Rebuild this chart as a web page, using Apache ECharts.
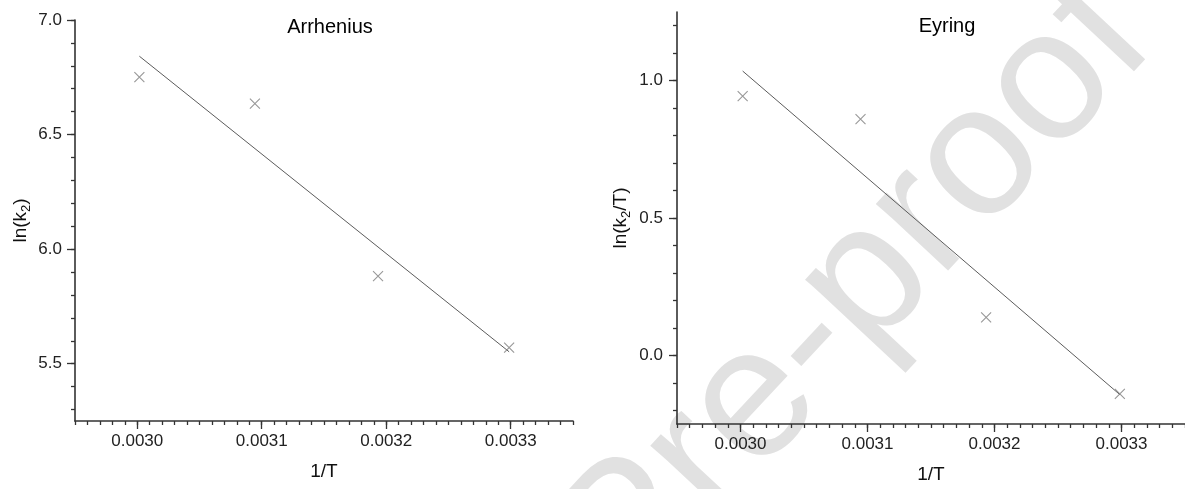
<!DOCTYPE html>
<html>
<head>
<meta charset="utf-8">
<script src="https://cdn.jsdelivr.net/npm/echarts@6/dist/echarts.min.js"></script>
<style>
  html, body { margin: 0; padding: 0; background: #fff; }
  #chart { width: 1185px; height: 489px; }
</style>
</head>
<body>
<div id="chart"></div>
<script>
// Reciprocal temperature (1/K) for the four measurements
const invT = [0.0030017, 0.0030945, 0.0031934, 0.0032987];
// Arrhenius plot: ln(k2)
const lnK = [6.751, 6.635, 5.882, 5.570];
// Eyring plot: ln(k2/T)
const lnKT = [0.944, 0.860, 0.138, -0.140];
// Linear fit endpoints
const fitX = [0.0030017, 0.0032987];
const lnKFit = [6.842, 5.552];
const lnKTFit = [1.035, -0.143];

// Axis ticks
const xMajor = [0.0030, 0.0031, 0.0032, 0.0033];
const yMajorLeft = [5.5, 6.0, 6.5, 7.0];
const yMajorRight = [0.0, 0.5, 1.0];

function steps(from, to, step, digits) {
  const out = [];
  const n = Math.round((to - from) / step);
  for (let i = 0; i <= n; i++) out.push(+(from + i * step).toFixed(digits));
  return out;
}
const xMinor = steps(0.00295, 0.00335, 0.00001, 6);
const yMinorLeft = steps(5.3, 7.0, 0.1, 2);
const yMinorRight = steps(-0.2, 1.2, 0.1, 2);

const FONT = '"Liberation Sans", Arial, sans-serif';
const AXIS_COLOR = '#333';
const MARK_COLOR = '#7e7e7e';
const LINE_COLOR = '#5c5c5c';

const cross = 'path://M0,0L10,10M10,0L0,10';

function pairs(xs, ys) { return xs.map((x, i) => [x, ys[i]]); }

function xAxes(gridIndex) {
  const base = {
    type: 'value', gridIndex, min: 0.00295, max: 0.00335, position: 'bottom',
    splitLine: { show: false }, scale: true
  };
  return [
    Object.assign({}, base, {
      axisLine: { show: true, onZero: false, lineStyle: { color: AXIS_COLOR, width: 1.6 } },
      axisTick: { show: true, inside: false, length: 4, customValues: xMinor,
                  lineStyle: { color: AXIS_COLOR, width: 1.3 } },
      axisLabel: { show: false }
    }),
    Object.assign({}, base, {
      axisLine: { show: false, onZero: false },
      axisTick: { show: true, inside: false, length: 8, customValues: xMajor,
                  lineStyle: { color: AXIS_COLOR, width: 1.3 } },
      axisLabel: { show: true, customValues: xMajor, margin: 12, color: '#222',
                   fontFamily: FONT, fontSize: 17, formatter: v => v.toFixed(4) },
      name: '1/T', nameLocation: 'middle', nameGap: 41,
      nameTextStyle: { color: '#111', fontFamily: FONT, fontSize: 19 }
    })
  ];
}

function yAxes(gridIndex, min, max, minor, major, name, gap, margin) {
  const base = {
    type: 'value', gridIndex, min, max, position: 'left',
    splitLine: { show: false }, scale: true
  };
  return [
    Object.assign({}, base, {
      axisLine: { show: true, onZero: false, lineStyle: { color: AXIS_COLOR, width: 1.6 } },
      axisTick: { show: true, inside: false, length: 4, customValues: minor,
                  lineStyle: { color: AXIS_COLOR, width: 1.3 } },
      axisLabel: { show: false }
    }),
    Object.assign({}, base, {
      axisLine: { show: false, onZero: false },
      axisTick: { show: true, inside: false, length: 8, customValues: major,
                  lineStyle: { color: AXIS_COLOR, width: 1.3 } },
      axisLabel: { show: true, customValues: major, margin, color: '#222',
                   fontFamily: FONT, fontSize: 17, formatter: v => v.toFixed(1) },
      name, nameLocation: 'middle', nameRotate: 90, nameGap: gap,
      nameTextStyle: {
        color: '#111', fontFamily: FONT, fontSize: 19, lineHeight: 24,
        rich: { sub: { fontFamily: FONT, fontSize: 13, lineHeight: 13, verticalAlign: 'bottom', color: '#111' } }
      }
    })
  ];
}

const chart = echarts.init(document.getElementById('chart'), null, { renderer: 'canvas' });

chart.setOption({
  backgroundColor: '#fff',
  animation: false,
  title: [
    { text: 'Arrhenius', left: 330, top: 17, textAlign: 'center', padding: 0,
      textStyle: { fontFamily: FONT, fontSize: 20, fontWeight: 'normal', color: '#000' } },
    { text: 'Eyring', left: 947, top: 16, textAlign: 'center', padding: 0,
      textStyle: { fontFamily: FONT, fontSize: 20, fontWeight: 'normal', color: '#000' } }
  ],
  graphic: [{
    type: 'text', x: 856, y: 294, rotation: 0.82, z: -10, silent: true,
    style: { text: 'Pre-proof', font: '186px "Liberation Sans", Arial, sans-serif',
             fill: '#e1e1e1', textAlign: 'center', textVerticalAlign: 'middle' }
  }],
  grid: [
    { left: 75, width: 498, top: 20, bottom: 68 },
    { left: 677, width: 512, top: 12, bottom: 64.5 }
  ],
  xAxis: [].concat(xAxes(0), xAxes(1)),
  yAxis: [].concat(
    yAxes(0, 5.25, 7.0, yMinorLeft, yMajorLeft, 'ln(k{sub|2})', 42, 13),
    yAxes(1, -0.25, 1.25, yMinorRight, yMajorRight, 'ln(k{sub|2}/T)', 44, 14)
  ),
  series: [
    { type: 'line', xAxisIndex: 0, yAxisIndex: 0, data: pairs(fitX, lnKFit),
      symbol: 'none', lineStyle: { color: LINE_COLOR, width: 1 }, z: 3 },
    { type: 'scatter', xAxisIndex: 0, yAxisIndex: 0, data: pairs(invT, lnK),
      symbol: cross, symbolSize: 10,
      itemStyle: { color: 'none', borderColor: MARK_COLOR, borderWidth: 1.1 }, z: 4 },
    { type: 'line', xAxisIndex: 2, yAxisIndex: 2, data: pairs(fitX, lnKTFit),
      symbol: 'none', lineStyle: { color: LINE_COLOR, width: 1 }, z: 3 },
    { type: 'scatter', xAxisIndex: 2, yAxisIndex: 2, data: pairs(invT, lnKT),
      symbol: cross, symbolSize: 10,
      itemStyle: { color: 'none', borderColor: MARK_COLOR, borderWidth: 1.1 }, z: 4 }
  ]
});
</script>
</body>
</html>
